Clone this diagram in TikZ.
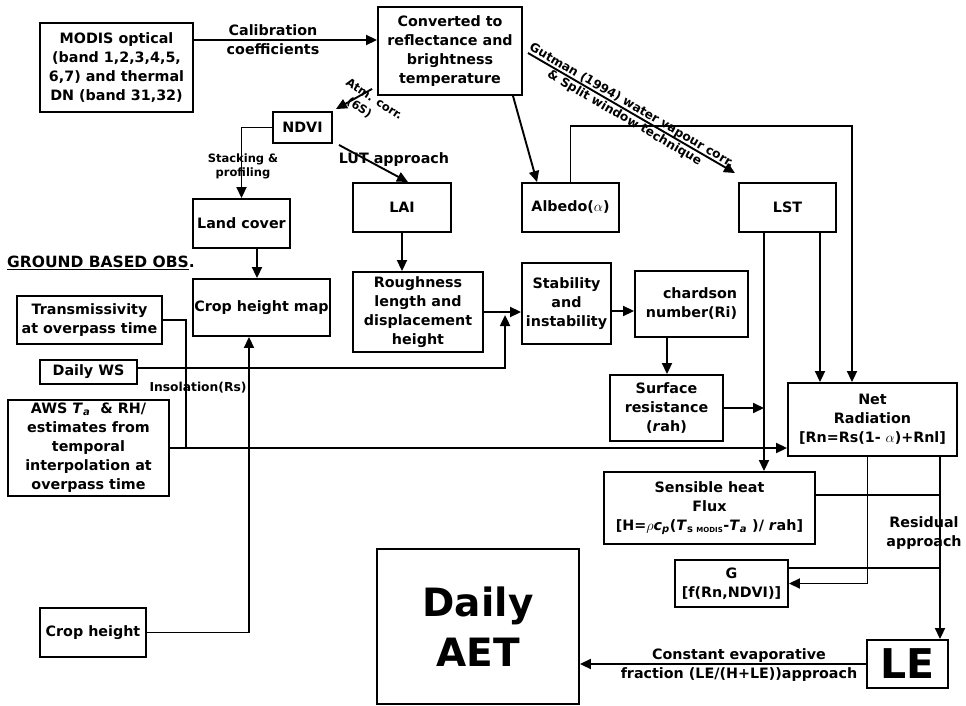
\documentclass[tikz,border=0pt]{standalone}
\usepackage{fontspec}
\setmainfont{DejaVu Sans}
\usetikzlibrary{arrows.meta}
\newcommand\fMain{\bfseries\fontsize{14.3}{19}\selectfont}
\newcommand\fSmall{\bfseries\fontsize{11.5}{14}\selectfont}
\newcommand\fMid{\bfseries\fontsize{12.2}{14.5}\selectfont}
\newcommand\myUL[1]{\setbox0\hbox{#1}\rlap{\rule[-3pt]{\wd0}{1.6pt}}\box0}
\begin{document}
\begin{tikzpicture}[x=1pt,y=-1pt,
  box/.style={draw, line width=1.9pt, inner sep=0pt, align=center, font=\fMain},
  wh/.style 2 args={minimum width=#1pt, minimum height=#2pt},
  lbl/.style={inner sep=0pt, align=center, font=\fMain},
  conn/.style={line width=1.9pt},
  arr/.style={conn, -{Triangle[length=11pt,width=10pt]}}]
\useasboundingbox (0,0) rectangle (966,706);

% boxes
\node[box,wh={153}{89}] (modis) at (116.5,67.5) {MODIS optical\\(band 1,2,3,4,5,\\6,7) and thermal\\DN (band 31,32)};
\node[box,wh={144}{88}] (conv) at (450,51) {Converted to\\reflectance and\\brightness\\temperature};
\node[box,wh={59}{31}] (ndvi) at (302.5,127.5) {NDVI};
\node[box,wh={97}{49}] (land) at (241.5,223.5) {Land cover};
\node[box,wh={98}{49}] (lai) at (402,207.5) {LAI};
\node[box,wh={97}{49}] (albedo) at (570.5,207.5) {Albedo($\alpha$)};
\node[box,wh={97}{49}] (lst) at (787.5,207.5) {LST};
\node[box,wh={137}{57}] (chm) at (261.5,307.5) {Crop height map};
\node[box,wh={130}{80}] (rough) at (418,312) {Roughness\\length and\\displacement\\height};
\node[box,wh={145}{48}] (trans) at (89.5,320) {Transmissivity\\at overpass time};
\node[box,wh={97}{24}] (ws) at (88.5,372) {Daily WS};
\node[box,wh={161}{96}] (aws) at (88.5,448) {AWS \textit{T}\textsubscript{\textit{a}}\ \ \& RH/\\estimates from\\temporal\\interpolation at\\overpass time};
\node[box,wh={89}{81}] (stab) at (566.5,303.5) {Stability\\and\\instability};
\node[box,wh={113}{66},align=right] (rich) at (691.5,304) {chardson\\number(Ri)};
\node[box,wh={113}{66}] (surf) at (666.5,408) {Surface\\resistance\\(\textit{r}ah)};
\node[box,wh={169}{73}] (net) at (872.5,419.5) {Net\\Radiation\\{}[Rn=Rs(1- $\alpha$)+Rnl]};
\node[box,wh={211}{72}] (sens) at (709.5,508) {Sensible heat\\Flux\\{}[H=$\rho$\textit{c}\textsubscript{\textit{p}}(\textit{T}\textsubscript{s {\fontsize{7}{8}\selectfont MODIS}}-\textit{T}\textsubscript{\textit{a}} )/ \textit{r}ah]};
\node[box,wh={113}{47}] (g) at (731.5,583.5) {G\\{}[f(Rn,NDVI)]};
\node[box,wh={81}{48},font=\bfseries\fontsize{41}{41}\selectfont] (le) at (907.5,664) {LE};
\node[box,wh={202}{155},font=\bfseries\fontsize{39}{50}\selectfont] (aet) at (478,626.5) {Daily\\AET};
\node[box,wh={106}{49}] (ch) at (93,632.5) {Crop height};

% helper coordinates
\coordinate (lstL) at ([xshift=-23.5pt]lst.south);
\coordinate (lstR) at ([xshift=32.5pt]lst.south);
\coordinate (netR) at ([xshift=67.5pt]net.south);
\coordinate (netM) at ([xshift=-5pt]net.south);
\coordinate (j1) at ([xshift=16pt]aws.east);

% labels
\node[lbl] (calib) at (273,40) {Calibration\\coefficients};
\node[lbl,font=\bfseries\fontsize{11.5}{15}\selectfont,rotate=-33] (atm) at (370,106) {Atm. corr.\\\hspace*{-16pt}(6S)};
\node[lbl,font=\fSmall] (stack) at (243,166) {Stacking \&\\profiling};
\node[lbl] (lut) at (394,160) {LUT approach};
\node[lbl,font=\fMid,rotate=-30.2] (gut) at (628,112) {Gutman (1994) water vapour corr.\\\& Split window technique};
\node[lbl,anchor=west,font=\bfseries\fontsize{15.5}{18}\selectfont] (gbo) at (7,263) {\myUL{GROUND BASED OBS}.};
\node[lbl,font=\bfseries\fontsize{12.3}{14}\selectfont] (insol) at (198,388) {Insolation(Rs)};
\node[lbl] (resid) at (924,533) {Residual\\approach};
\node[lbl] (cef) at (739,665) {Constant evaporative\\fraction (LE/(H+LE))approach};

% connectors
\draw[arr] ([yshift=27.5pt]modis.east) -- ([yshift=27.5pt]modis.east -| conv.west);
\draw[arr] ([shift={(-5pt,7pt)}]conv.south west) -- ([shift={(3pt,2pt)}]ndvi.north east);
\draw[arr] (ndvi.west) -| (land.north);
\draw[arr] ([shift={(6pt,-1pt)}]ndvi.south east) -- ([xshift=6pt]lai.north);
\draw[arr] ([xshift=63pt]conv.south) -- ([xshift=-33.5pt]albedo.north);
\draw[arr] ([shift={(5pt,-2pt)}]conv.east) -- ([shift={(-52.5pt,9pt)}]lst.north);
\draw[arr] (albedo.north) -- ++(0,-56) -| ([xshift=-20.5pt]net.north);
\draw[arr] (lstR) -- (lstR |- net.north);
\draw[arr] (lstL) -- (lstL |- sens.north);
\draw[arr] ([xshift=15.5pt]land.south) -- ([xshift=15.5pt]land.south |- chm.north);
\draw[arr] (lai.south) -- (lai.south |- rough.north);
\draw[arr] (rough.east) -- (rough.east -| stab.west);
\draw[arr] ([yshift=4pt]ws.east) -| ([shift={(-16pt,-11.5pt)}]stab.west);
\draw[conn] (trans.east) -| (j1);
\draw[arr] (aws.east) -- (aws.east -| net.west);
\draw[arr] (ch.east) -| ([xshift=-12.5pt]chm.south);
\draw[arr] ([yshift=-7.5pt]stab.east) -- ([yshift=-7.5pt]stab.east -| rich.west);
\draw[arr] ([xshift=-24.5pt]rich.south) -- ([xshift=-24.5pt]rich.south |- surf.north);
\draw[arr] (surf.east) -- (surf.east -| lstL);
\draw[conn] ([yshift=13pt]sens.east) -- ([yshift=13pt]sens.east -| netR);
\draw[arr] (netR) -- (netR |- le.north);
\draw[arr] (netM) |- (g.east);
\draw[conn] ([yshift=15.5pt]g.east) -- ([yshift=15.5pt]g.east -| netR);
\draw[arr] (le.west) -- (le.west -| aet.east);
\end{tikzpicture}
\end{document}
